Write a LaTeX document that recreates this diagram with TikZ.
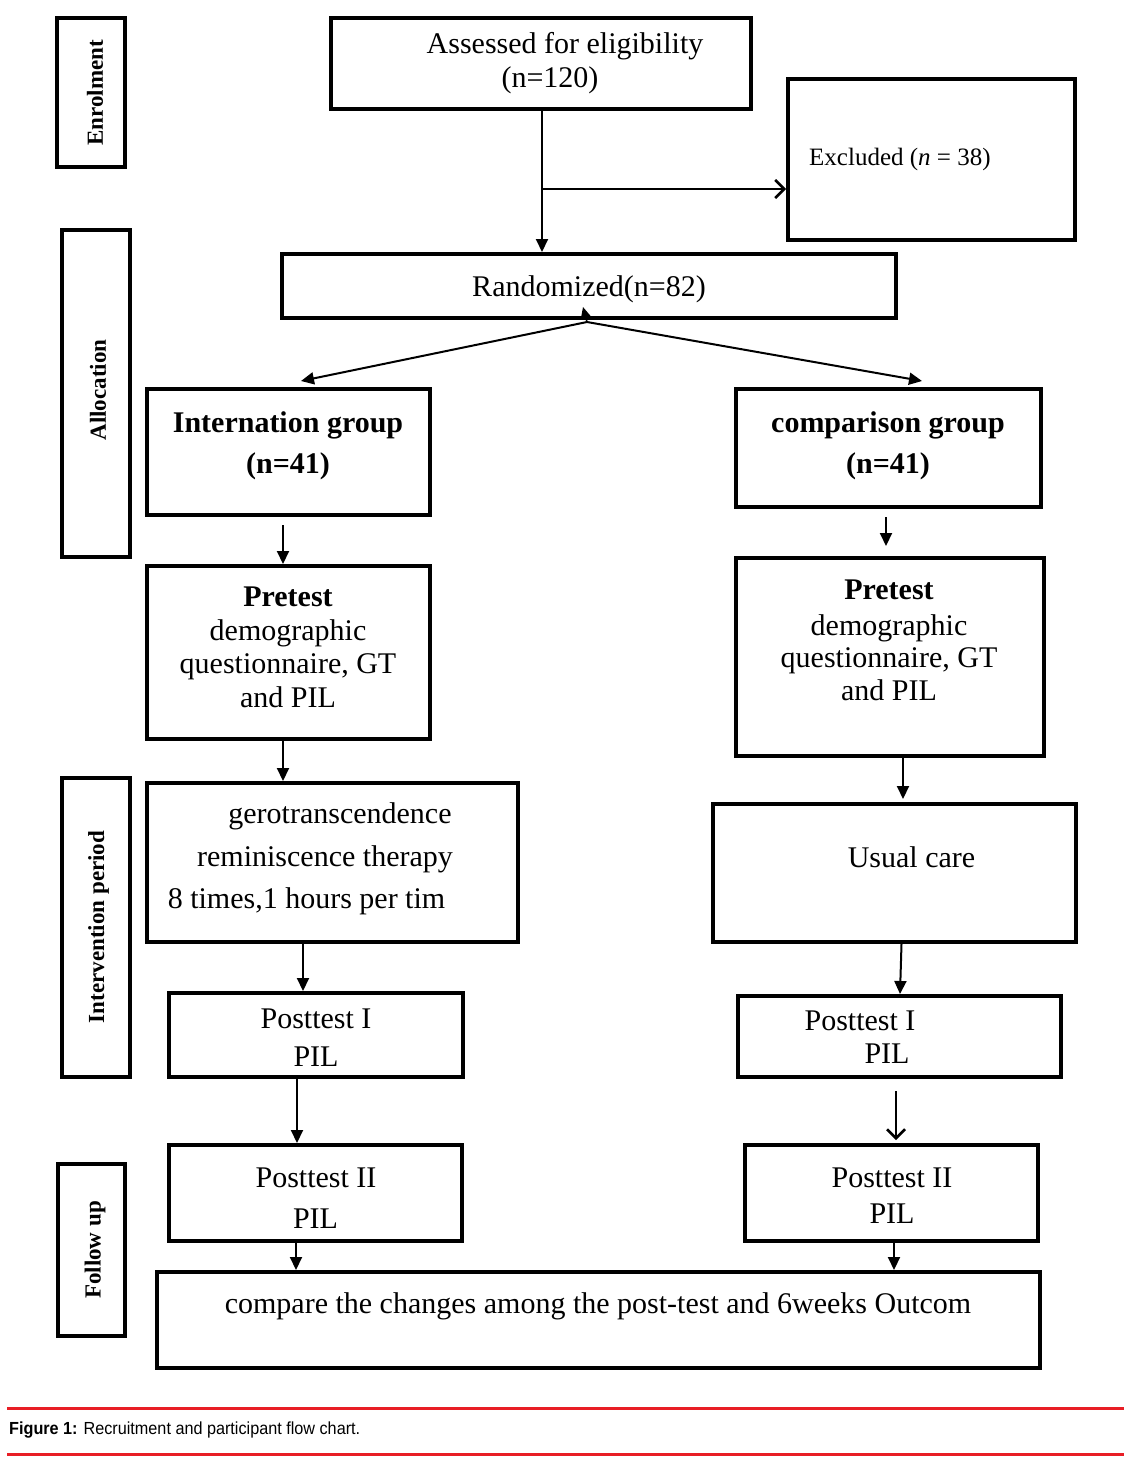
\documentclass[tikz,border=0pt]{standalone}
\usepackage{graphicx}
\usepackage{fontspec}
\setmainfont{Liberation Serif}
\newfontfamily\capfont{Liberation Sans}
\usetikzlibrary{arrows.meta}
\definecolor{capred}{RGB}{232,30,37}
\begin{document}
\begin{tikzpicture}[x=1pt,y=-1pt,
  box/.style={draw, line width=4pt, rectangle, inner sep=0pt},
  lbl/.style={font=\fontsize{30}{33}\selectfont, anchor=base, inner sep=0pt},
  blbl/.style={font=\fontsize{30}{33}\selectfont\bfseries, anchor=base, inner sep=0pt},
  side/.style={rotate=90, font=\fontsize{23}{26}\selectfont\bfseries, inner sep=0pt},
  arr/.style={line width=2pt, -{Triangle[length=13pt,width=12pt]}},
  openarr/.style={line width=2pt, -{Straight Barb[length=9pt,width=18pt,line width=2.5pt]}},
]
\fill[white] (0,0) rectangle (1130,1462);
\useasboundingbox (0,0) rectangle (1130,1462);

% side labels
\node[box, minimum width=68pt, minimum height=149pt] (enr) at (91,92.5) {};
\node[box, minimum width=68pt, minimum height=327pt] (alloc) at (96,393.5) {};
\node[box, minimum width=68pt, minimum height=299pt] (interv) at (96,927.5) {};
\node[box, minimum width=67pt, minimum height=172pt] (follow) at (91.5,1250) {};
\node[side] (tenr) at (95,93) {Enrolment};
\node[side] (talloc) at (98,390) {Allocation};
\node[side] (tinterv) at (98.5,927) {Intervention period};
\node[side] (tfollow) at (95,1250) {Follow up};

% boxes
\node[box, minimum width=420pt, minimum height=91pt] (assess) at (541,63.5) {};
\node[box, minimum width=287pt, minimum height=161pt] (excl) at (931.5,159.5) {};
\node[box, minimum width=614pt, minimum height=64pt] (rand) at (589,286) {};
\node[box, minimum width=283pt, minimum height=126pt] (intg) at (288.5,452) {};
\node[box, minimum width=305pt, minimum height=118pt] (cmpg) at (888.5,448) {};
\node[box, minimum width=283pt, minimum height=173pt] (preL) at (288.5,652.5) {};
\node[box, minimum width=308pt, minimum height=198pt] (preR) at (890,657) {};
\node[box, minimum width=371pt, minimum height=159pt] (gero) at (332.5,862.5) {};
\node[box, minimum width=363pt, minimum height=138pt] (usual) at (894.5,873) {};
\node[box, minimum width=294pt, minimum height=84pt] (p1L) at (316,1035) {};
\node[box, minimum width=323pt, minimum height=81pt] (p1R) at (899.5,1036.5) {};
\node[box, minimum width=293pt, minimum height=96pt] (p2L) at (315.5,1193) {};
\node[box, minimum width=293pt, minimum height=96pt] (p2R) at (891.5,1193) {};
\node[box, minimum width=883pt, minimum height=96pt] (cmp) at (598.5,1320) {};

% texts
\node[lbl] (ta1) at (565,53) {Assessed for eligibility};
\node[lbl] (ta2) at (550,87) {(n=120)};
\node[lbl, font=\fontsize{25}{28}\selectfont, anchor=base west] (tex) at (809,165) {Excluded (\textit{n} = 38)};
\node[lbl] (tr) at (589,296) {Randomized(n=82)};
\node[blbl] (ti1) at (288,432) {Internation group};
\node[blbl] (ti2) at (288,473) {(n=41)};
\node[blbl] (tc1) at (888,432) {comparison group};
\node[blbl] (tc2) at (888,473) {(n=41)};
\node[blbl] (tpl1) at (288,606) {Pretest};
\node[lbl] (tpl2) at (288,640) {demographic};
\node[lbl] (tpl3) at (288,673) {questionnaire, GT};
\node[lbl] (tpl4) at (288,707) {and PIL};
\node[blbl] (tpr1) at (889,599) {Pretest};
\node[lbl] (tpr2) at (889,635) {demographic};
\node[lbl] (tpr3) at (889,667) {questionnaire, GT};
\node[lbl] (tpr4) at (889,700) {and PIL};
\node[lbl] (tg1) at (340,823) {gerotranscendence};
\node[lbl] (tg2) at (325,866) {reminiscence therapy};
\node[lbl] (tg3) at (306.5,908) {8 times,1 hours per tim};
\node[lbl] (tu) at (911.5,867) {Usual care};
\node[lbl] (tp1L1) at (316,1028) {Posttest I};
\node[lbl] (tp1L2) at (316,1066) {PIL};
\node[lbl] (tp1R1) at (860,1030) {Posttest I};
\node[lbl] (tp1R2) at (887,1063) {PIL};
\node[lbl] (tp2L1) at (316,1187) {Posttest II};
\node[lbl] (tp2L2) at (315.5,1228) {PIL};
\node[lbl] (tp2R1) at (892,1187) {Posttest II};
\node[lbl] (tp2R2) at (892,1223) {PIL};
\node[lbl] (tcmp) at (598,1313) {compare the changes among the post-test and 6weeks Outcom};

% connectors
\coordinate (br) at ([xshift=1pt,yshift=-78pt]assess.south);
\draw[arr] ([xshift=1pt]assess.south) -- ([xshift=1pt]assess.south |- rand.north);
\draw[openarr] (br) -- (br -| excl.west);
\coordinate (sp) at ([xshift=-2pt,yshift=-2pt]rand.south);
\draw[arr] (sp) -- ([xshift=12.5pt,yshift=6pt]intg.north);
\draw[arr] (sp) -- ([xshift=33.5pt,yshift=6pt]cmpg.north);
\draw[line width=1.5pt, -{Triangle[length=11pt,width=10pt]}] (sp) -- ([xshift=-6pt,yshift=13pt]rand.south);
\draw[arr] ([xshift=-5.5pt,yshift=-8pt]intg.south) -- ([xshift=-5.5pt]preL.north);
\draw[arr] ([xshift=-2.5pt,yshift=-8pt]cmpg.south) -- ([xshift=-4pt,yshift=10pt]preR.north);
\draw[arr] ([xshift=-5.5pt]preL.south) -- ([xshift=-5.5pt]preL.south |- gero.north);
\draw[arr] ([xshift=13pt]preR.south) -- ([xshift=13pt,yshift=3pt]preR.south |- usual.north);
\draw[arr] ([xshift=-29.5pt]gero.south) -- ([xshift=-29.5pt]gero.south |- p1L.north);
\draw[arr] ([xshift=7pt]usual.south) -- ([xshift=0.5pt]p1R.north);
\draw[arr] ([xshift=-19pt]p1L.south) -- ([xshift=-19pt]p1L.south |- p2L.north);
\draw[openarr] ([xshift=-3.5pt,yshift=-12pt]p1R.south) -- ([xshift=-3.5pt,yshift=3pt]p1R.south |- p2R.north);
\draw[arr] ([xshift=-19.5pt]p2L.south) -- ([xshift=-19.5pt]p2L.south |- cmp.north);
\draw[arr] ([xshift=2.5pt]p2R.south) -- ([xshift=2.5pt]p2R.south |- cmp.north);

% caption
\coordinate (rl1a) at (7,1408); \coordinate (rl1b) at (1124,1408);
\coordinate (rl2a) at (7,1454); \coordinate (rl2b) at (1124,1454);
\draw[capred, line width=3pt] (rl1a) -- (rl1b);
\draw[capred, line width=3pt] (rl2a) -- (rl2b);
\node[anchor=base west, inner sep=0pt, font=\capfont\fontsize{17.5}{20}\selectfont] (cap) at (9,1434) {\resizebox{351pt}{\height}{\textbf{Figure 1:} Recruitment and participant flow chart.}};
\end{tikzpicture}
\end{document}
